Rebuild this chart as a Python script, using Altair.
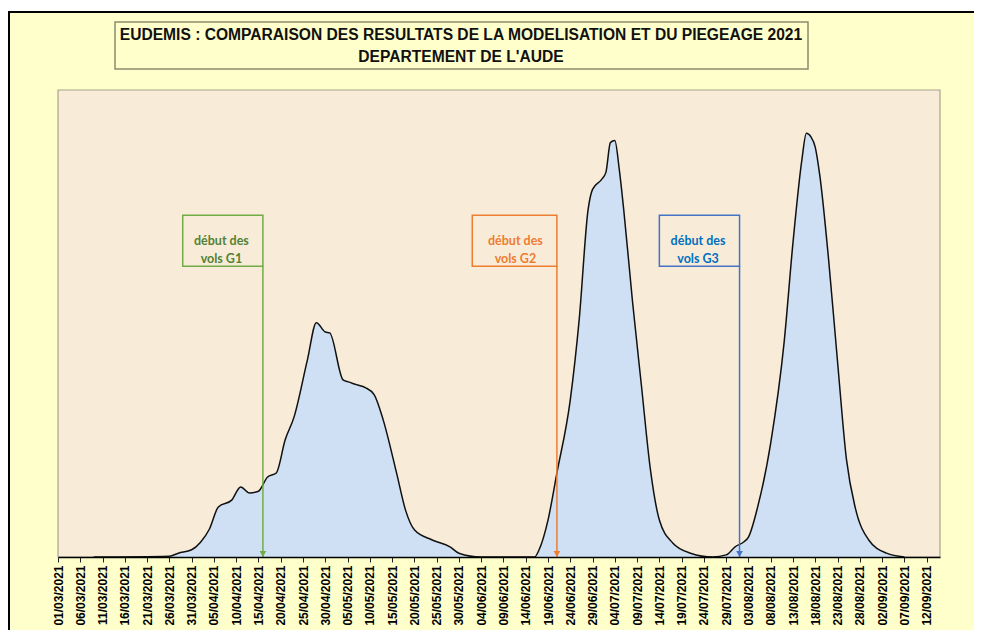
import altair as alt
import pandas as pd

# ---- data ----
dates = [
    "2021-03-09", "2021-03-26", "2021-03-28", "2021-03-31", "2021-04-02", "2021-04-04",
    "2021-04-06", "2021-04-09", "2021-04-11", "2021-04-13", "2021-04-15", "2021-04-17",
    "2021-04-19", "2021-04-21", "2021-04-23", "2021-04-26", "2021-04-28", "2021-04-30",
    "2021-05-01", "2021-05-04", "2021-05-05", "2021-05-07", "2021-05-09", "2021-05-11",
    "2021-05-13", "2021-05-16", "2021-05-18", "2021-05-20", "2021-05-24", "2021-05-28",
    "2021-05-30", "2021-06-04",
    "2021-06-16", "2021-06-17", "2021-06-19", "2021-06-21", "2021-06-24", "2021-06-26",
    "2021-06-28", "2021-06-29", "2021-07-01", "2021-07-02", "2021-07-03", "2021-07-04",
    "2021-07-05", "2021-07-06", "2021-07-08", "2021-07-10", "2021-07-12", "2021-07-14",
    "2021-07-17", "2021-07-21", "2021-07-26",
    "2021-07-29", "2021-07-31", "2021-08-02", "2021-08-03", "2021-08-05", "2021-08-08",
    "2021-08-11", "2021-08-13", "2021-08-15", "2021-08-16", "2021-08-17", "2021-08-18",
    "2021-08-19", "2021-08-21", "2021-08-23", "2021-08-25", "2021-08-27", "2021-08-30",
    "2021-09-03", "2021-09-07",
]
values = [
    0.0, 0.2, 0.9, 1.7, 3.5, 6.6,
    11.8, 13.4, 16.5, 15.1, 15.5, 18.8,
    19.8, 27.6, 33.0, 46.5, 55.2, 53.0,
    52.8, 41.7, 41.3, 40.6, 39.9, 38.2,
    32.3, 19.8, 11.1, 6.4, 4.0, 2.4,
    0.9, 0.0,
    0.0, 1.7, 8.7, 19.8, 37.0, 55.9,
    81.8, 86.6, 88.9, 90.6, 97.6, 98.1,
    91.3, 81.8, 59.9, 40.1, 20.5, 8.7,
    3.3, 0.9, 0.0,
    0.5, 2.4, 3.6, 4.7, 11.5, 26.9,
    50.5, 74.1, 93.6, 99.8, 99.0, 96.5,
    90.0, 70.0, 46.0, 23.0, 11.5, 4.0,
    0.9, 0.0,
]

tick_labels = [
    "01/03/2021", "06/03/2021", "11/03/2021", "16/03/2021", "21/03/2021", "26/03/2021",
    "31/03/2021", "05/04/2021", "10/04/2021", "15/04/2021", "20/04/2021", "25/04/2021",
    "30/04/2021", "05/05/2021", "10/05/2021", "15/05/2021", "20/05/2021", "25/05/2021",
    "30/05/2021", "04/06/2021", "09/06/2021", "14/06/2021", "19/06/2021", "24/06/2021",
    "29/06/2021", "04/07/2021", "09/07/2021", "14/07/2021", "19/07/2021", "24/07/2021",
    "29/07/2021", "03/08/2021", "08/08/2021", "13/08/2021", "18/08/2021", "23/08/2021",
    "28/08/2021", "02/09/2021", "07/09/2021", "12/09/2021",
]

ann_labels = ["début des\nvols G1", "début des\nvols G2", "début des\nvols G3"]
ann_arrow_dates = ["2021-04-16", "2021-06-21", "2021-08-01"]
ann_box_start = ["2021-03-29", "2021-06-02", "2021-07-14"]
ann_border = ["#70AD47", "#ED7D31", "#4472C4"]
ann_text_color = ["#548235", "#ED7D31", "#0070C0"]

title_lines = [
    "EUDEMIS : COMPARAISON DES RESULTATS DE LA MODELISATION  ET DU PIEGEAGE 2021",
    "DEPARTEMENT DE L'AUDE",
]

# ---- layout ----
W, H = 882, 467
PAD = {"left": 50, "top": 82, "right": 34, "bottom": 73}

def to_dt(s):
    d, m, y = s.split("/")
    return alt.DateTime(year=int(y), month=int(m), date=int(d), utc=True)

x_scale = alt.Scale(type="utc",
                    domain=[alt.DateTime(year=2021, month=3, date=1, utc=True),
                            alt.DateTime(year=2021, month=9, date=15, utc=True)])
y_scale = alt.Scale(domain=[0, 110])

x_axis = alt.Axis(values=[to_dt(t) for t in tick_labels],
                  labelExpr="utcFormat(datum.value, '%d/%m/%Y')",
                  labelAngle=270, labelFont="Liberation Sans", labelFontWeight="bold",
                  labelFontSize=12, labelColor="#000000", labelPadding=3,
                  domainColor="#000000", domainWidth=1.5,
                  tickColor="#222222", tickSize=5, grid=False, labelOverlap=False,
                  labelBound=False, labelFlush=False, title=None, zindex=2)

df = pd.DataFrame({"date": dates, "value": values})
ann = pd.DataFrame({
    "label": ann_labels, "arrow": ann_arrow_dates, "start": ann_box_start,
    "border": ann_border, "tcolor": ann_text_color,
    "top": [80.5] * 3, "bottom": [68.5] * 3, "zero": [0.0] * 3, "mid": [74.5] * 3,
})
dummy = pd.DataFrame({"k": [0]})

outer = alt.Chart(dummy).mark_rect(fill="#FFFFCC", stroke="#000000", strokeWidth=2).encode(
    x=alt.value(-49), x2=alt.value(1000), y=alt.value(-78), y2=alt.value(700))

title_box = alt.Chart(dummy).mark_rect(fill="#FFFFCC", stroke="#8C8C6E", strokeWidth=1.5).encode(
    x=alt.value(57), x2=alt.value(750), y=alt.value(-68), y2=alt.value(-21))

title1 = alt.Chart(dummy).mark_text(font="Liberation Sans", fontWeight="bold", fontSize=15.6,
                                    color="#111111", align="center", baseline="middle").encode(
    x=alt.value(403), y=alt.value(-55), text=alt.value(title_lines[0]))
title2 = alt.Chart(dummy).mark_text(font="Liberation Sans", fontWeight="bold", fontSize=15.6,
                                    color="#111111", align="center", baseline="middle").encode(
    x=alt.value(403), y=alt.value(-33), text=alt.value(title_lines[1]))

plot_bg = alt.Chart(dummy).mark_rect(fill="#F8ECD8", stroke="#A8A48C", strokeWidth=1.2).encode(
    x=alt.value(0), x2=alt.value(W), y=alt.value(0), y2=alt.value(H))

y_enc = alt.Y("value:Q", scale=y_scale, axis=None)

area = alt.Chart(df).mark_area(color="#CFE0F5", opacity=1, interpolate="monotone").encode(
    x=alt.X("date:T", scale=x_scale, axis=x_axis), y=y_enc)
line = alt.Chart(df).mark_line(color="#111111", strokeWidth=1.5, interpolate="monotone").encode(
    x=alt.X("date:T", scale=x_scale, axis=x_axis), y=y_enc)

rule = alt.Chart(ann).mark_rule(strokeWidth=1.5).encode(
    x=alt.X("arrow:T", scale=x_scale, axis=x_axis),
    y=alt.Y("bottom:Q", scale=y_scale, axis=None), y2="zero:Q",
    color=alt.Color("border:N", scale=None))
head = alt.Chart(ann).mark_point(shape="triangle-down", filled=True, size=45, opacity=1, yOffset=-3).encode(
    x=alt.X("arrow:T", scale=x_scale, axis=x_axis),
    y=alt.Y("zero:Q", scale=y_scale, axis=None),
    color=alt.Color("border:N", scale=None))
box = alt.Chart(ann).mark_rect(filled=False, strokeWidth=1.5).encode(
    x=alt.X("start:T", scale=x_scale, axis=x_axis), x2="arrow:T",
    y=alt.Y("top:Q", scale=y_scale, axis=None), y2="bottom:Q",
    stroke=alt.Stroke("border:N", scale=None))
text = alt.Chart(ann).mark_text(font="Lato", fontWeight="bold", fontSize=12.5, lineBreak="\n",
                                lineHeight=18, align="center", baseline="middle", dx=-41.5).encode(
    x=alt.X("arrow:T", scale=x_scale, axis=x_axis),
    y=alt.Y("mid:Q", scale=y_scale, axis=None),
    text="label:N", color=alt.Color("tcolor:N", scale=None))

chart = alt.layer(outer, title_box, title1, title2, plot_bg, area, line, rule, head, box, text).properties(
    width=W, height=H, autosize=alt.AutoSizeParams(type="none"), padding=PAD, background="white"
).configure_view(stroke=None)

chart.save("out.html", embed_options={"renderer": "svg", "actions": False})
